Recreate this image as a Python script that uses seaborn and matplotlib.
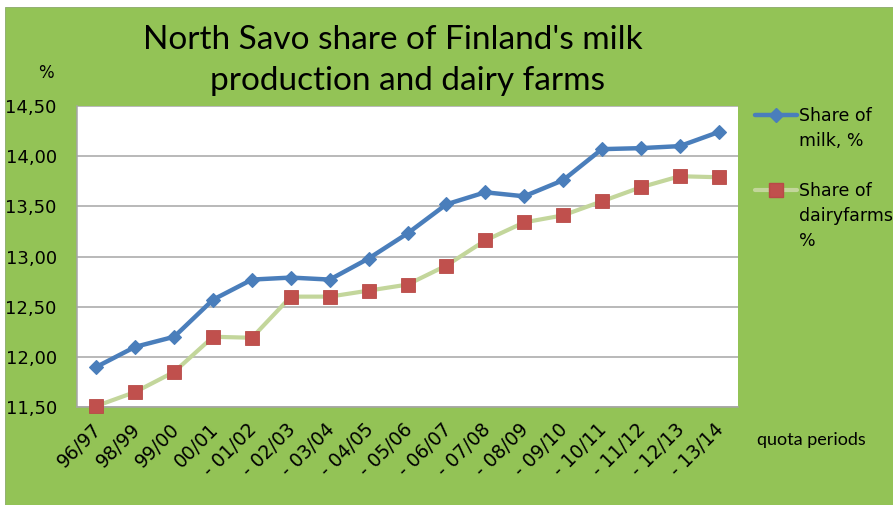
import numpy as np
import pandas as pd
import matplotlib
matplotlib.use("Agg")
import matplotlib.pyplot as plt
from matplotlib.patches import Rectangle
from matplotlib.lines import Line2D
import matplotlib.transforms as mtransforms
import seaborn as sns

periods = ["96/97", "98/99", "99/00", "00/01", "- 01/02", "- 02/03", "- 03/04",
           "- 04/05", "- 05/06", "- 06/07", "- 07/08", "- 08/09", "- 09/10",
           "- 10/11", "- 11/12", "- 12/13", "- 13/14"]
milk_share = [11.90, 12.10, 12.20, 12.57, 12.77, 12.79, 12.77, 12.98, 13.23,
              13.52, 13.64, 13.60, 13.76, 14.07, 14.08, 14.10, 14.24]
farm_share = [11.51, 11.65, 11.85, 12.20, 12.19, 12.60, 12.60, 12.66, 12.72,
              12.91, 13.16, 13.34, 13.41, 13.55, 13.69, 13.80, 13.79]
y_ticks = [11.5, 12.0, 12.5, 13.0, 13.5, 14.0, 14.5]

df = pd.DataFrame({"pos": np.arange(len(periods)), "period": periods,
                   "milk": milk_share, "farms": farm_share})

sns.set_theme(style="white")
plt.rcParams["font.family"] = ["DejaVu Sans"]
plt.rcParams["text.color"] = "black"
plt.rcParams["xtick.labelcolor"] = "black"
plt.rcParams["ytick.labelcolor"] = "black"

W, H = 893, 505
fig = plt.figure(figsize=(W / 100, H / 100), dpi=100, facecolor="white")
GREEN = "#93C356"
fig.patches.append(Rectangle((5 / W, 0), 1 - 5 / W, 1 - 7 / H, transform=fig.transFigure,
                             facecolor=GREEN, edgecolor="#8AA86A", lw=0.6, zorder=-10))

ax = fig.add_axes([77 / W, 1 - 407 / H, (738 - 77) / W, (407 - 106) / H])
ax.set_facecolor("white")

BLUE = "#4A7EBB"
LGREEN = "#C3D69B"
RED = "#C0504D"

sns.lineplot(data=df, x="pos", y="milk", ax=ax, color=BLUE, linewidth=3.2,
             marker="D", markersize=7.5, markeredgecolor=BLUE, markeredgewidth=0.8,
             clip_on=False, zorder=3)
sns.lineplot(data=df, x="pos", y="farms", ax=ax, color=LGREEN, linewidth=3.0,
             marker="s", markersize=10, markerfacecolor=RED, markeredgecolor="#B84A47",
             markeredgewidth=0.6, clip_on=False, zorder=4)

ax.set_xlim(-0.5, len(periods) - 0.5)
ax.set_ylim(11.5, 14.5)
ax.set_yticks(y_ticks)
ax.set_yticklabels([f"{v:.2f}".replace(".", ",") for v in y_ticks], fontsize=13,
                   color="black")
ax.set_xticks(df["pos"])
ax.set_xticklabels(periods, fontsize=13.5, rotation=45, ha="right", va="center",
                   rotation_mode="anchor", color="black")
ax.set_xticks(np.arange(-0.5, len(periods), 1.0), minor=True)
ax.tick_params(axis="x", which="major", length=0, pad=14)
ax.tick_params(axis="x", which="minor", length=5, width=1, color="#A6A6A6", direction="out")
ax.tick_params(axis="y", length=6, width=1, color="#A6A6A6", direction="out", pad=8.5)
offset = mtransforms.ScaledTranslation(2 / 100, 0, fig.dpi_scale_trans)
for lab in ax.get_xticklabels():
    lab.set_transform(lab.get_transform() + offset)
ax.set_xlabel("")
ax.set_ylabel("")
ax.grid(axis="y", color="#A6A6A6", linewidth=1.1)
ax.grid(axis="x", visible=False)
for s in ["top", "right"]:
    ax.spines[s].set_visible(False)
for s in ["left", "bottom"]:
    ax.spines[s].set_color("#A6A6A6")
    ax.spines[s].set_linewidth(1.1)
ax.set_axisbelow(True)

# legend (Excel style: marker aligned with first line of each entry)
h_milk = Line2D([], [], color=BLUE, linewidth=3.2, marker="D", markersize=7.5,
                markeredgecolor=BLUE)
h_farm = Line2D([], [], color=LGREEN, linewidth=3.0, marker="s", markersize=10,
                markerfacecolor=RED, markeredgecolor="#B84A47")
blank = Line2D([], [], alpha=0)
handles = [h_milk, blank, blank, h_farm, blank, blank]
labels = ["Share of", "milk, %", " ", "Share of", "dairyfarms", "%"]
fig.legend(handles, labels, loc="upper left", bbox_to_anchor=(755 / W, 1 - 107 / H),
           frameon=False, fontsize=12.5, handlelength=2.4, handletextpad=0.15,
           labelspacing=0.4, borderpad=0, borderaxespad=0, labelcolor="black")

# titles and annotations
fig.text(393 / W, 1 - 49 / H, "North Savo share of Finland's milk", ha="center",
         va="baseline", fontsize=24, family=["Lato", "DejaVu Sans"], color="black")
fig.text(408 / W, 1 - 90 / H, "production and dairy farms", ha="center",
         va="baseline", fontsize=24, family=["Lato", "DejaVu Sans"], color="black")
fig.text(46 / W, 1 - 73 / H, "%", ha="center", va="center", fontsize=12, color="black")
fig.text(757 / W, 1 - 440 / H, "quota periods", ha="left", va="center", fontsize=13,
         family=["Lato", "DejaVu Sans"], color="black")

fig.savefig("out.png", dpi=100, facecolor="white")
